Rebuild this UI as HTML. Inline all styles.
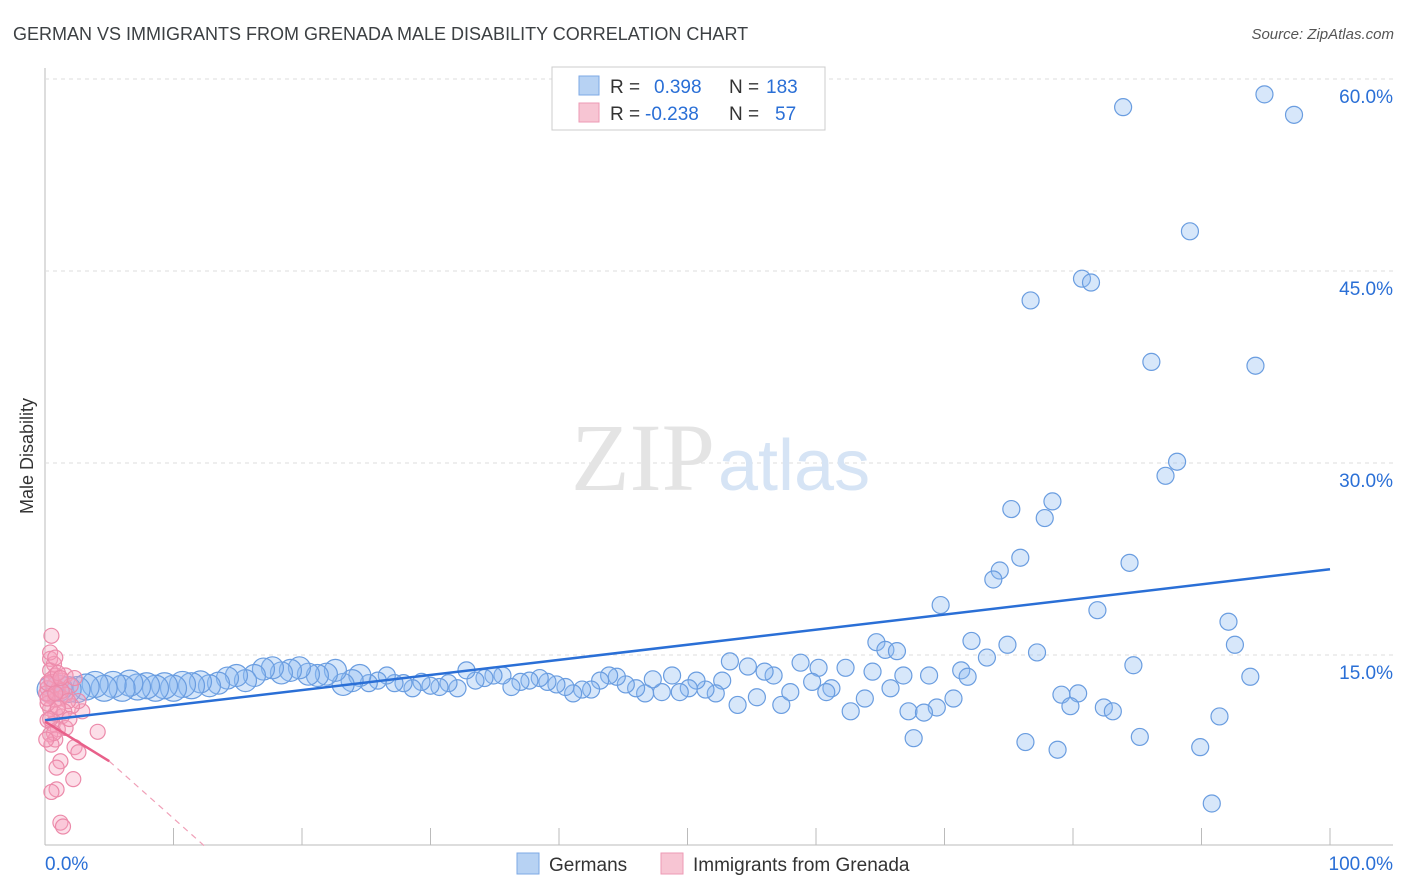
<!DOCTYPE html>
<html><head><meta charset="utf-8"><style>
body{margin:0;background:#fff;width:1406px;height:892px;overflow:hidden;font-family:"Liberation Sans",sans-serif}
</style></head><body>
<svg id="chart" width="1406" height="892" style="position:absolute;left:0;top:0">
<text x="13" y="40" font-size="18" fill="#3c4043">GERMAN VS IMMIGRANTS FROM GRENADA MALE DISABILITY CORRELATION CHART</text>
<text x="1394" y="39" font-size="15" fill="#555" font-style="italic" text-anchor="end">Source: ZipAtlas.com</text>
<text x="33" y="456" font-size="18" fill="#333" text-anchor="middle" transform="rotate(-90 33 456)">Male Disability</text>
<g id="grid"></g>
<text x="715" y="490" font-size="96" fill="#e4e4e4" text-anchor="end" font-family="Liberation Serif,serif">ZIP</text>
<text x="718" y="490" font-size="72" fill="#d6e4f5">atlas</text>
<g id="pts"></g>
<g id="lines"></g>
<g>
<rect x="552" y="67" width="273" height="63" fill="#fff" stroke="#ccc"/>
<rect x="579" y="76" width="20" height="19" fill="#b7d2f3" stroke="#7ea9e6"/>
<rect x="579" y="103" width="20" height="19" fill="#f7c5d3" stroke="#ee9ab4"/>
<text x="610" y="93" font-size="19" fill="#333">R =</text>
<text x="654" y="93" font-size="19" fill="#2a6fd6">0.398</text>
<text x="729" y="93" font-size="19" fill="#333">N =</text>
<text x="766" y="93" font-size="19" fill="#2a6fd6">183</text>
<text x="610" y="120" font-size="19" fill="#333">R =</text>
<text x="645" y="120" font-size="19" fill="#2a6fd6">-0.238</text>
<text x="729" y="120" font-size="19" fill="#333">N =</text>
<text x="775" y="120" font-size="19" fill="#2a6fd6">57</text>
</g>
<g>
<rect x="517" y="853" width="22" height="21" fill="#b7d2f3" stroke="#7ea9e6"/>
<text x="549" y="871" font-size="19" fill="#333">Germans</text>
<rect x="661" y="853" width="22" height="21" fill="#f7c5d3" stroke="#ee9ab4"/>
<text x="693" y="871" font-size="19" fill="#333">Immigrants from Grenada</text>
</g>
</svg>
<script>
const yTicks=[15,30,45,60];
const xTickLabels=["0.0%","100.0%"];
const blueX=[83.9,94.9,97.2,89.1,76.7,80.7,81.4,86.1,94.2,88.1,87.2,75.2,78.4,77.8,84.4,75.9,74.3,73.8,69.7,81.9,92.1,92.6,72.1,74.9,77.2,73.3,84.7,93.8,71.3,71.8,79.1,80.4,79.8,82.4,83.1,70.7,69.4,67.2,68.4,67.6,76.3,78.8,85.2,89.9,91.4,90.8,64.7,65.4,66.3,62.3,62.7,63.8,64.4,66.8,68.8,65.8,60.2,58.8,59.7,61.2,60.8,57.3,58.0,56.7,56.0,55.4,54.7,53.9,53.3,52.7,52.2,51.4,50.7,50.1,49.4,48.8,48.0,47.3,46.7,46.0,45.2,44.5,43.9,43.2,42.5,41.8,41.1,40.5,39.8,39.1,38.5,37.7,37.0,36.3,35.6,34.9,34.2,33.5,32.8,32.1,31.4,30.7,30.0,29.3,28.6,27.9,27.2,26.6,25.9,25.2,24.5,23.9,23.2,22.6,21.9,21.2,20.5,19.8,19.1,18.4,17.7,17.0,16.3,15.6,14.9,14.2,13.5,12.8,12.1,11.4,10.7,10.0,9.3,8.6,7.9,7.2,6.6,6.0,5.3,4.6,3.9,3.2,2.5,1.8,1.1,0.4];
const blueY=[57.8,58.8,57.2,48.1,42.7,44.4,44.1,37.9,37.6,30.1,29.0,26.4,27.0,25.7,22.2,22.6,21.6,20.9,18.9,18.5,17.6,15.8,16.1,15.8,15.2,14.8,14.2,13.3,13.8,13.3,11.9,12.0,11.0,10.9,10.6,11.6,10.9,10.6,10.5,8.5,8.2,7.6,8.6,7.8,10.2,3.4,16.0,15.4,15.3,14.0,10.6,11.6,13.7,13.4,13.4,12.4,14.0,14.4,12.9,12.4,12.1,11.1,12.1,13.4,13.7,11.7,14.1,11.1,14.5,13.0,12.0,12.3,13.0,12.4,12.1,13.4,12.1,13.1,12.0,12.4,12.7,13.3,13.4,13.0,12.3,12.3,12.0,12.5,12.7,12.9,13.2,13.0,12.9,12.5,13.4,13.4,13.2,13.0,13.8,12.4,12.8,12.5,12.6,12.9,12.4,12.8,12.8,13.4,13.0,12.8,13.4,13.0,12.7,13.8,13.5,13.4,13.5,14.0,13.8,13.6,14.0,13.9,13.4,13.0,13.4,13.2,12.8,12.6,12.9,12.6,12.7,12.4,12.6,12.4,12.6,12.5,12.8,12.4,12.7,12.4,12.7,12.5,12.3,12.3,12.4,12.3];
const pinkX=[0.5,0.4,0.7,0.4,0.8,0.5,0.2,1.0,1.3,1.6,2.0,2.3,0.4,0.8,1.2,0.4,0.8,1.3,0.2,0.6,1.0,0.4,0.8,1.2,0.9,2.3,2.6,4.1,2.2,0.9,0.5,1.2,1.4,2.9,2.6,1.6,0.4,0.8,0.2,0.5,2.1,1.6,0.1,0.2,0.5,1.0,1.3,1.8,0.4,0.7,0.1,1.5,1.9,1.0,0.2,0.8,1.2];
const pinkY=[16.5,14.7,14.3,13.8,13.4,12.9,12.4,12.3,13.0,13.4,12.6,13.2,11.8,11.5,11.6,10.8,10.4,10.2,9.9,9.6,9.2,8.8,8.4,6.7,6.2,7.8,7.4,9.0,5.3,4.5,4.3,1.9,1.6,10.6,11.4,11.9,15.2,14.8,11.2,8.0,11.0,9.3,12.0,12.8,13.1,13.6,12.2,11.4,10.0,8.9,8.4,10.6,10.0,10.9,11.6,12.0,13.2];
const blueTrend=[9.9,21.7];
const pinkTrend=[9.8,6.7,0];
const X0=45,X1=1330,Y0=847,PPY=192/15;
function sx(v){return X0+(X1-X0)*v/100}
function sy(v){return Y0-v*PPY}
const NS="http://www.w3.org/2000/svg";
function mk(t,a,p){const e=document.createElementNS(NS,t);for(const k in a)e.setAttribute(k,a[k]);p.appendChild(e);return e}
const grid=document.getElementById('grid');
const ax=mk('line',{x1:45,y1:68,x2:45,y2:845,stroke:'#bbb'},grid);


const bx=mk('line',{x1:45,y1:845,x2:1393,y2:845,stroke:'#bbb'},grid);


for(let i=0;i<=10;i++){const t=mk('line',{x1:sx(i*10),y1:828,x2:sx(i*10),y2:845,stroke:'#bbb'},grid);

}
yTicks.forEach(v=>{const l=mk('line',{x1:45,x2:1393,y1:sy(v),y2:sy(v),stroke:'#ddd','stroke-dasharray':'4,4'},grid);


const t=mk('text',{x:1393,y:sy(v)+24,'font-size':19,fill:'#2a6fd6','text-anchor':'end'},grid);t.textContent=v.toFixed(1)+'%';

});
const xl0=mk('text',{x:45,y:870,'font-size':19,fill:'#2a6fd6'},grid);xl0.textContent=xTickLabels[0];


const xl1=mk('text',{x:1393,y:870,'font-size':19,fill:'#2a6fd6','text-anchor':'end'},grid);xl1.textContent=xTickLabels[1];


const pts=document.getElementById('pts');
blueX.forEach((x,i)=>{const r=x<25?(x<12?13:11):8.5;
const c=mk('circle',{cx:sx(x),cy:sy(blueY[i]),r:r,fill:'rgba(140,185,240,0.35)',stroke:'#6a9de0','stroke-width':1.2},pts);

});
pinkX.forEach((x,i)=>{const c=mk('circle',{cx:sx(x),cy:sy(pinkY[i]),r:7.5,fill:'rgba(245,160,190,0.35)',stroke:'#ec8aaa','stroke-width':1.2},pts);

});
const lines=document.getElementById('lines');
const bl=mk('line',{x1:sx(0),y1:sy(blueTrend[0]),x2:sx(100),y2:sy(blueTrend[1]),stroke:'#2a6fd6','stroke-width':2.5},lines);


const pl=mk('line',{x1:sx(0),y1:sy(pinkTrend[0]),x2:sx(5),y2:sy(pinkTrend[1]),stroke:'#e8608a','stroke-width':2.5},lines);


const pd=mk('line',{x1:sx(5),y1:sy(pinkTrend[1]),x2:sx(12.5),y2:sy(pinkTrend[2]),stroke:'#f0a0b8','stroke-width':1.2,'stroke-dasharray':'6,5'},lines);


</script>
</body></html>
